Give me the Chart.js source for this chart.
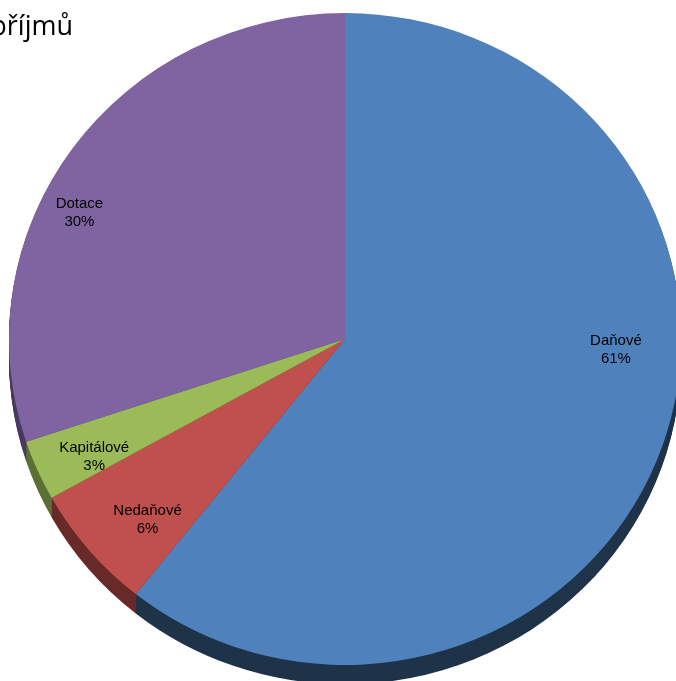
<!DOCTYPE html>
<html>
<head>
<meta charset="utf-8">
<script src="https://cdn.jsdelivr.net/npm/chart.js@4.4.0/dist/chart.umd.min.js"></script>
<style>
  html, body { margin: 0; padding: 0; background: #fff; overflow: hidden; }
  #wrap { position: absolute; left: 0; top: 0; width: 700px; height: 700px; }
</style>
</head>
<body>
<div id="wrap"><canvas id="c"></canvas></div>
<script>
const categories = ['Daňové', 'Nedaňové', 'Kapitálové', 'Dotace'];
const values = [60.7, 6.2, 3.0, 30.1];
const faceColors = ['#4F81BD', '#C0504D', '#9BBB59', '#8064A2'];
const sideColors = ['#1F3349', '#682A28', '#5B7035', '#4B3C62'];
const titleText = 'Struktura příjmů';

// label placement inside each slice: fraction along slice angle, fraction of radius
const labelAngleFrac = [0.423, 0.365, 0.30, 0.41];
const labelRadiusFrac = [0.807, 0.808, 0.83, 0.88];

const SCALE_Y = 0.97;
const DEPTH = 20;

function withEllipse(ctx, arc) {
  ctx.translate(arc.x, arc.y);
  ctx.scale(1, SCALE_Y);
  ctx.translate(-arc.x, -arc.y);
}

const pie3d = {
  id: 'pie3d',
  beforeDatasetsDraw(chart) {
    const ctx = chart.ctx;
    const meta = chart.getDatasetMeta(0);
    const first = meta.data[0];
    ctx.save();
    withEllipse(ctx, first);
    for (let d = DEPTH; d >= 1; d--) {
      meta.data.forEach((arc, i) => {
        ctx.beginPath();
        ctx.moveTo(arc.x, arc.y + d);
        ctx.arc(arc.x, arc.y + d, arc.outerRadius, arc.startAngle, arc.endAngle);
        ctx.closePath();
        ctx.fillStyle = sideColors[i];
        ctx.fill();
      });
    }
  },
  afterDatasetsDraw(chart) {
    chart.ctx.restore();
  },
  afterDraw(chart) {
    const ctx = chart.ctx;
    const meta = chart.getDatasetMeta(0);
    const total = values.reduce((a, b) => a + b, 0);
    ctx.save();
    ctx.fillStyle = '#000';
    ctx.font = '15px "Liberation Sans", Arial, sans-serif';
    ctx.textAlign = 'center';
    ctx.textBaseline = 'middle';
    meta.data.forEach((arc, i) => {
      const a = arc.startAngle + labelAngleFrac[i] * (arc.endAngle - arc.startAngle);
      const r = labelRadiusFrac[i] * arc.outerRadius;
      const x = arc.x + Math.cos(a) * r;
      const y = arc.y + Math.sin(a) * r * SCALE_Y;
      const pct = Math.round(values[i] / total * 100) + '%';
      ctx.fillText(categories[i], x, y - 9);
      ctx.fillText(pct, x, y + 9);
    });
    // title (partially off the left edge, as in the original)
    ctx.font = '27px "Open Sans", sans-serif';
    ctx.textAlign = 'right';
    ctx.textBaseline = 'alphabetic';
    ctx.fillText(titleText, 73, 35);
    ctx.restore();
  }
};

new Chart(document.getElementById('c'), {
  type: 'pie',
  data: {
    labels: categories,
    datasets: [{
      data: values,
      backgroundColor: faceColors,
      borderWidth: 0,
      hoverOffset: 0
    }]
  },
  options: {
    responsive: true,
    maintainAspectRatio: false,
    animation: false,
    layout: { padding: { left: 9, top: 3, right: 19, bottom: 25 } },
    plugins: {
      legend: { display: false },
      title: { display: false },
      tooltip: { enabled: false }
    }
  },
  plugins: [pie3d]
});
</script>
</body>
</html>
